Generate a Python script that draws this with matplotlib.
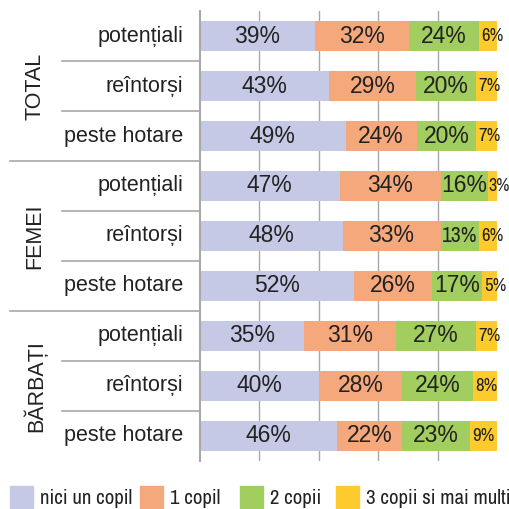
import numpy as np
import matplotlib.pyplot as plt
from matplotlib.patches import Rectangle

plt.rcParams['font.family'] = ['Liberation Sans', 'DejaVu Sans']
NARROW = ['Archivo Narrow', 'Liberation Sans']

# Data
groups = ["TOTAL", "FEMEI", "BĂRBAȚI"]
rows = ["potențiali", "reîntorși", "peste hotare"] * 3
series = ["nici un copil", "1 copil", "2 copii", "3 copii si mai multi"]
nici_un_copil = [39, 43, 49, 47, 48, 52, 35, 40, 46]
un_copil = [32, 29, 24, 34, 33, 26, 31, 28, 22]
doi_copii = [24, 20, 20, 16, 13, 17, 27, 24, 23]
trei_copii = [6, 7, 7, 3, 6, 5, 7, 8, 9]
colors = ["#C6C9E5", "#F6A87D", "#A2CD5F", "#FECB2E"]

values = np.array([nici_un_copil, un_copil, doi_copii, trei_copii], dtype=float)
shares = values / values.sum(axis=0) * 100

W, H = 510, 509
fig = plt.figure(figsize=(W / 100, H / 100), dpi=100)
ax_l, ax_w = 200 / W, 297 / W
ax = fig.add_axes([ax_l, 1 - 461 / H, ax_w, 450 / H])
px = 1 / 297  # one pixel in axes fraction
pxd = 100 / 297  # one pixel in data units

y = np.arange(len(rows))
left = np.zeros(len(rows))
for k in range(4):
    ax.barh(y, shares[k], left=left, height=0.6, color=colors[k], zorder=2)
    for i in range(len(rows)):
        v = int(values[k, i])
        cx = left[i] + shares[k, i] / 2
        if k == 3:
            off = 2 if shares[k, i] > 4 else 0.5
            ax.text(left[i] + off * pxd, y[i], f"{v}%", ha="left", va="center",
                    fontsize=13.5 if off == 2 else 13, family=NARROW,
                    color="#222222", zorder=3)
        elif k == 2 and shares[k, i] < 15:
            ax.text(cx, y[i], f"{v}%", ha="center", va="center", fontsize=15.5,
                    family=NARROW, color="#222222", zorder=3)
        else:
            ax.text(cx, y[i], f"{v}%", ha="center", va="center", fontsize=16.5,
                    color="#222222", zorder=3)
    left += shares[k]

ax.set_xlim(0, 100)
ax.set_ylim(len(rows) - 0.5, -0.5)
ax.set_xticks([20, 40, 60, 80])
ax.set_yticks([])
ax.tick_params(axis="x", length=0, labelbottom=False)
ax.grid(axis="x", color="#A8A8A8", lw=1, zorder=0)
for s in ["top", "right", "bottom"]:
    ax.spines[s].set_visible(False)
ax.spines["left"].set_color("#A8A8A8")
ax.spines["left"].set_linewidth(1.5)

# category labels
trans = ax.get_yaxis_transform()
for i, r in enumerate(rows):
    ax.text(-17 * px, y[i], r, transform=trans, ha="right", va="center",
            fontsize=15.5, color="#222222")

# separator lines
for b in [0.5, 1.5, 3.5, 4.5, 6.5, 7.5]:
    ax.plot([-138 * px, 0], [b, b], transform=trans, color="#A8A8A8",
            lw=1.2, clip_on=False)
for b in [2.5, 5.5]:
    ax.plot([-190 * px, 0], [b, b], transform=trans, color="#A8A8A8",
            lw=1.2, clip_on=False)

# group labels
for g, name in enumerate(groups):
    ax.text(-165 * px, 3 * g + 1, name, transform=trans, rotation=90,
            ha="center", va="center", fontsize=15.5, color="#222222")

# legend
leg_x = [10, 140, 240, 336]
for k, name in enumerate(series):
    x0 = leg_x[k] / W
    fig.patches.append(Rectangle((x0, 1 - 508 / H), 23 / W, 22 / H,
                                 transform=fig.transFigure, color=colors[k]))
    fig.text(x0 + 30 / W, 1 - 498 / H, name, ha="left", va="center",
             fontsize=15, family=NARROW, color="#222222")

fig.savefig("out.png", dpi=100)
